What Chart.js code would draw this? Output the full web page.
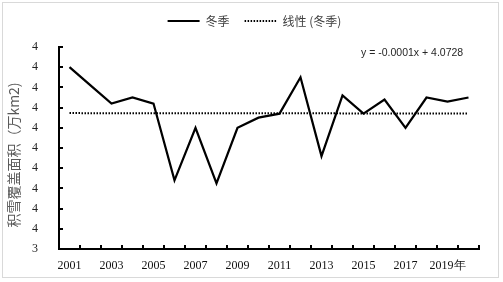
<!DOCTYPE html>
<html>
<head>
<meta charset="utf-8">
<script src="https://cdn.jsdelivr.net/npm/chart.js@4"></script>
<style>
  html, body { margin: 0; padding: 0; background: #fff; }
  #wrap { position: relative; width: 503px; height: 282px; }
  #frame { position: absolute; left: 2px; top: 2px; width: 497px; height: 276px; border: 1px solid #d9d9d9; box-sizing: border-box; pointer-events: none; }
</style>
</head>
<body>
<div id="wrap">
  <canvas id="snow-chart" width="503" height="282"></canvas>
  <div id="frame"></div>
</div>
<script>
// years on the category axis
const years = ['2001', '2002', '2003', '2004', '2005', '2006', '2007', '2008', '2009', '2010',
  '2011', '2012', '2013', '2014', '2015', '2016', '2017', '2018', '2019', '2020'];

// only every other year gets a label, the last labelled one carries the unit
const xTickLabels = ['2001', '', '2003', '', '2005', '', '2007', '', '2009', '',
  '2011', '', '2013', '', '2015', '', '2017', '', '2019年', ''];

// winter snow cover (万km2)
const winterValues = [4.30, 4.21, 4.12, 4.15, 4.12, 3.74, 4.00, 3.725, 4.00, 4.05,
  4.07, 4.25, 3.86, 4.16, 4.07, 4.14, 4.00, 4.15, 4.13, 4.15];

// linear trend y = -0.0001x + 4.0728
const trendValues = [4.0727, 4.0726, 4.0725, 4.0724, 4.0723, 4.0722, 4.0721, 4.0720, 4.0719, 4.0718,
  4.0717, 4.0716, 4.0715, 4.0714, 4.0713, 4.0712, 4.0711, 4.0710, 4.0709, 4.0708];

const trendLabel = 'y = -0.0001x + 4.0728';

// small inward tick marks, Excel style, plus the trend equation
const innerTicks = {
  id: 'innerTicks',
  afterDraw(chart) {
    const { ctx, chartArea, scales } = chart;
    const x = scales.x;
    const y = scales.y;
    ctx.save();
    ctx.strokeStyle = '#000';
    ctx.lineWidth = 2;
    ctx.beginPath();
    y.ticks.forEach((t) => {
      const py = Math.round(y.getPixelForValue(t.value));
      ctx.moveTo(chartArea.left, py);
      ctx.lineTo(chartArea.left + 4, py);
    });
    for (let i = 0; i <= years.length; i++) {
      const px = Math.round(x.getPixelForValue(i - 0.5));
      ctx.moveTo(px, chartArea.bottom);
      ctx.lineTo(px, chartArea.bottom - 4);
    }
    ctx.stroke();

    ctx.fillStyle = '#262626';
    ctx.font = '10.5px "Liberation Sans", Arial, sans-serif';
    ctx.textAlign = 'left';
    ctx.textBaseline = 'middle';
    ctx.fillText(trendLabel, chartArea.left + 302, chartArea.top + 6);
    ctx.restore();
  }
};

const ctx = document.getElementById('snow-chart').getContext('2d');

new Chart(ctx, {
  type: 'line',
  data: {
    labels: years,
    datasets: [
      {
        label: '冬季',
        data: winterValues,
        borderColor: '#000',
        backgroundColor: '#000',
        borderWidth: 2.25,
        pointRadius: 0,
        tension: 0,
      },
      {
        label: '线性 (冬季)',
        data: trendValues,
        borderColor: '#000',
        backgroundColor: '#000',
        borderWidth: 2,
        borderDash: [1.5, 1.5],
        pointRadius: 0,
        tension: 0,
      },
    ],
  },
  options: {
    responsive: false,
    animation: false,
    layout: {
      // left padding pushes the legend to the right; y axis width makes up for it
      padding: { left: 30, right: 24, top: 0, bottom: 0 },
    },
    plugins: {
      legend: {
        position: 'top',
        labels: {
          usePointStyle: true,
          pointStyle: 'line',
          pointStyleWidth: 32,
          padding: 15,
          color: '#404040',
          font: { family: '"Noto Sans CJK SC", sans-serif', size: 12 },
          generateLabels: (chart) =>
            Chart.defaults.plugins.legend.labels.generateLabels(chart).map((item, i) => ({
              ...item,
              lineWidth: 2,
              lineDash: chart.data.datasets[i].borderDash || [],
            })),
        },
      },
      // empty spacer between legend and plot
      title: {
        display: true,
        text: '',
        weight: 500,
        padding: 0,
        font: { size: 10, lineHeight: 1.0 },
      },
      tooltip: { enabled: false },
    },
    scales: {
      x: {
        type: 'category',
        offset: true,
        grid: { display: false },
        border: { display: true, color: '#000', width: 2 },
        ticks: {
          autoSkip: false,
          maxRotation: 0,
          padding: 2,
          color: '#111',
          font: { family: '"Liberation Serif", "Times New Roman", serif', size: 12 },
          callback: (value, index) => xTickLabels[index],
        },
        afterFit: (scale) => { scale.height = 33; },
      },
      y: {
        min: 3.4,
        max: 4.4,
        grid: { display: false },
        border: { display: true, color: '#000', width: 2 },
        ticks: {
          stepSize: 0.1,
          padding: 13,
          color: '#222',
          font: { family: '"Liberation Serif", "Times New Roman", serif', size: 12 },
          callback: (value) => Number(value).toFixed(0),
        },
        title: {
          display: true,
          text: '积雪覆盖面积（万km2)　',
          color: '#595959',
          padding: { top: -24.4, bottom: 0 },
          font: { family: '"Noto Sans CJK SC", sans-serif', size: 14 },
        },
        afterFit: (scale) => { scale.width = 29; },
      },
    },
  },
  plugins: [innerTicks],
});
</script>
</body>
</html>
